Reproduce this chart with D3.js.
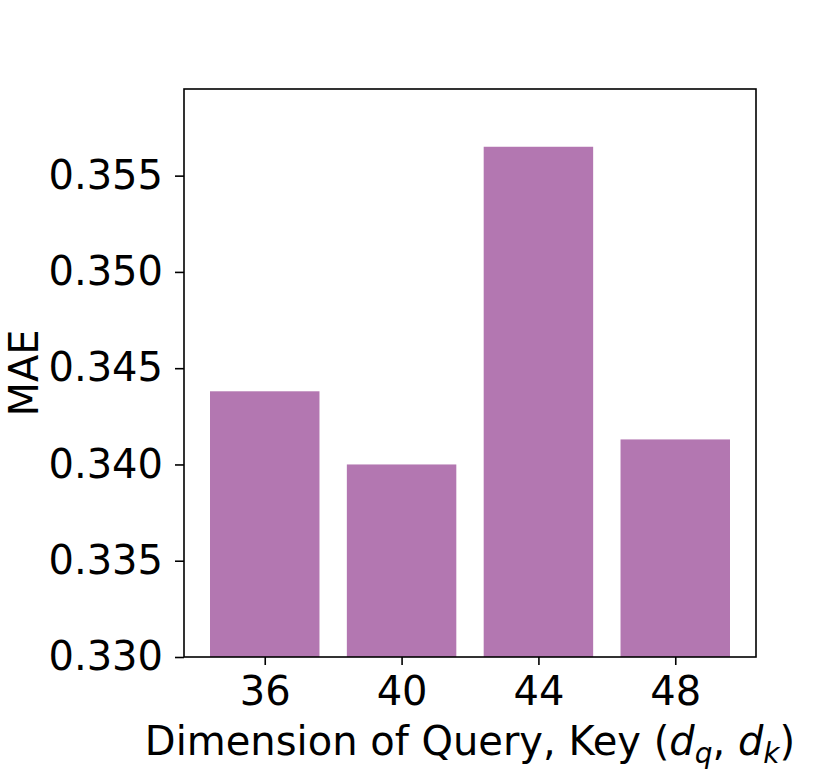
<!DOCTYPE html>
<html>
<head>
<meta charset="utf-8">
<script src="https://cdn.jsdelivr.net/npm/d3@7"></script>
<style>
  body { margin: 0; background: #fff; }
  svg text { font-family: "DejaVu Sans", sans-serif; }
</style>
</head>
<body>
<div id="chart"></div>
<script>
const categories = ['36', '40', '44', '48'];
const maeValues = [0.3438, 0.3400, 0.3565, 0.3413];
const yTicks = [0.330, 0.335, 0.340, 0.345, 0.350, 0.355];

const width = 830, height = 769;
const margin = { left: 184, right: 74, top: 89, bottom: 112 };
const innerW = width - margin.left - margin.right;
const innerH = height - margin.top - margin.bottom;
const barColor = '#b377b1';
const fontSize = 40;

const svg = d3.select('#chart')
  .append('svg')
  .attr('width', width)
  .attr('height', height);

const g = svg.append('g')
  .attr('transform', `translate(${margin.left},${margin.top})`);

// matplotlib-style: bar width 0.8, 5% margins
const x = d3.scaleLinear()
  .domain([-0.59, categories.length - 1 + 0.59])
  .range([0, innerW]);

const y = d3.scaleLinear()
  .domain([0.330, 0.3595])
  .range([innerH, 0]);

g.selectAll('rect.bar')
  .data(maeValues)
  .enter().append('rect')
  .attr('class', 'bar')
  .attr('x', (d, i) => x(i - 0.4))
  .attr('width', x(0.8) - x(0))
  .attr('y', d => y(d))
  .attr('height', d => y(0.330) - y(d))
  .attr('fill', barColor);

// y axis
const yAxis = g.append('g')
  .call(d3.axisLeft(y).tickValues(yTicks).tickFormat(d3.format('.3f')).tickSize(9).tickPadding(12));
yAxis.select('.domain').remove();
yAxis.selectAll('line').attr('stroke', '#000').attr('stroke-width', 1.6);
yAxis.selectAll('text').attr('font-size', fontSize).attr('fill', '#000')
  .attr('font-family', '"DejaVu Sans", sans-serif');

// x axis
const xAxis = g.append('g')
  .attr('transform', `translate(0,${innerH})`)
  .call(d3.axisBottom(x).tickValues(d3.range(categories.length))
    .tickFormat(i => categories[i]).tickSize(8).tickPadding(12));
xAxis.select('.domain').remove();
xAxis.selectAll('line').attr('stroke', '#000').attr('stroke-width', 1.6);
xAxis.selectAll('text').attr('font-size', fontSize).attr('fill', '#000')
  .attr('font-family', '"DejaVu Sans", sans-serif');

// frame
g.append('rect')
  .attr('x', 0).attr('y', 0)
  .attr('width', innerW).attr('height', innerH)
  .attr('fill', 'none')
  .attr('stroke', '#000')
  .attr('stroke-width', 1.6);

// y label
svg.append('text')
  .attr('transform', `translate(38,${margin.top + innerH / 2}) rotate(-90)`)
  .attr('text-anchor', 'middle')
  .attr('font-size', fontSize)
  .text('MAE');

// x label with math
const xl = svg.append('text')
  .attr('x', margin.left + innerW / 2)
  .attr('y', 755)
  .attr('text-anchor', 'middle')
  .attr('font-size', fontSize);
xl.append('tspan').text('Dimension of Query, Key (');
xl.append('tspan').attr('font-style', 'italic').text('d');
xl.append('tspan').attr('font-style', 'italic').attr('font-size', 28).attr('dy', 8).text('q');
xl.append('tspan').attr('dy', -8).text(', ');
xl.append('tspan').attr('font-style', 'italic').text('d');
xl.append('tspan').attr('font-style', 'italic').attr('font-size', 28).attr('dy', 8).text('k');
xl.append('tspan').attr('dy', -8).text(')');
</script>
</body>
</html>
